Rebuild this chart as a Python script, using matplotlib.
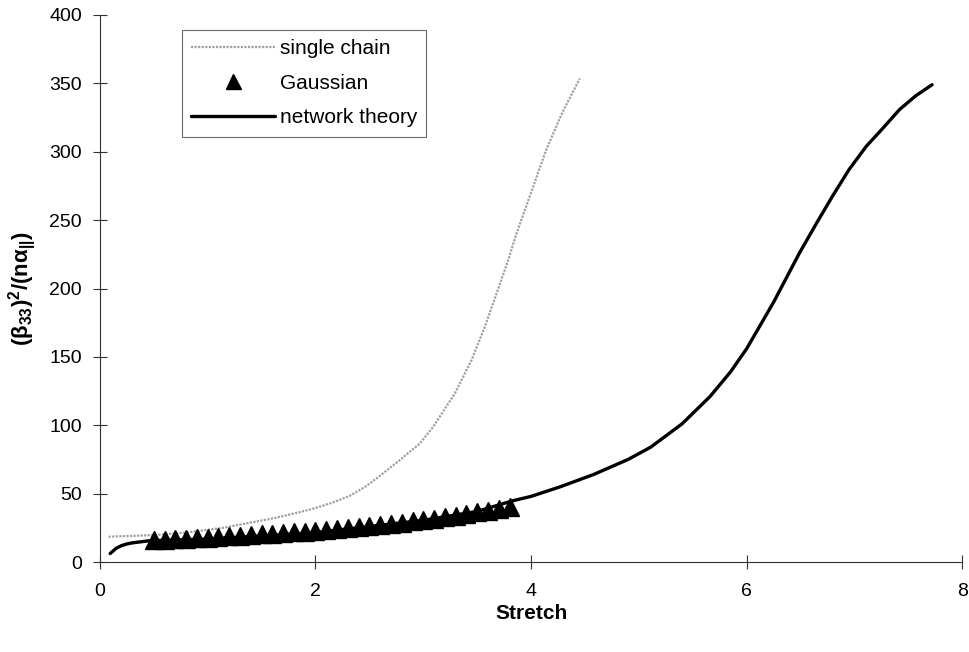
import matplotlib
matplotlib.use("Agg")
import matplotlib.pyplot as plt

plt.rcParams['font.family'] = ['Liberation Sans', 'DejaVu Sans']
plt.rcParams['mathtext.default'] = 'regular'

# single chain (dotted grey)
chain_x = [0.08, 0.5, 0.8, 1.14, 1.61, 1.855, 2.0, 2.16, 2.32, 2.47, 2.597, 2.783,
           2.968, 3.092, 3.293, 3.448, 3.571, 3.68, 3.788, 3.865, 4.004, 4.143,
           4.292, 4.453]
chain_y = [18.5, 19.7, 21.5, 25, 32, 36.5, 39.5, 43.5, 48.5, 55.5, 63, 74.6,
           86.7, 98.9, 123.3, 147.7, 172, 196.4, 220.8, 240.3, 271, 302,
           329, 353.6]

# Gaussian (triangles)
gauss_x = [0.5, 0.6, 0.7, 0.8, 0.9, 1.0, 1.1, 1.2, 1.3, 1.4, 1.5, 1.6, 1.7,
           1.8, 1.9, 2.0, 2.1, 2.2, 2.3, 2.4, 2.5, 2.6, 2.7, 2.8, 2.9, 3.0,
           3.1, 3.2, 3.3, 3.4, 3.5, 3.6, 3.7, 3.8]
gauss_y = [16.0, 16.3, 16.7, 17.0, 17.4, 17.8, 18.2, 18.7, 19.2, 19.7, 20.2,
           20.7, 21.2, 21.7, 22.3, 22.9, 23.5, 24.1, 24.8, 25.5, 26.3, 27.1,
           27.9, 28.8, 29.8, 30.8, 31.8, 32.9, 34.0, 35.1, 36.3, 37.6, 39.0, 40.5]

# network theory (solid black)
net_x = [0.095, 0.15, 0.2, 0.25, 0.3, 0.45, 1.0, 2.0, 3.0, 3.5, 3.83, 4.0, 4.27,
         4.58, 4.9, 5.11, 5.4, 5.66, 5.85, 6.0, 6.25, 6.49, 6.65, 6.8, 6.95,
         7.11, 7.25, 7.42, 7.57, 7.72]
net_y = [6.2, 10, 12, 13.2, 14, 15.5, 16.8, 21.5, 30.5, 37, 44.8, 48, 55,
         64, 75, 84, 101, 121, 139, 156, 190, 226, 248, 268, 287,
         304, 316, 331, 341, 349]

fig = plt.figure(figsize=(9.7, 6.52), dpi=100)
ax = fig.add_axes([0.103, 0.138, 0.889, 0.839])

l1, = ax.plot(chain_x, chain_y, color='#a0a0a0', linestyle=(0, (1, 0.6)),
              linewidth=1.6, label='single chain', zorder=2)
l3, = ax.plot(net_x, net_y, color='black', linewidth=2.4,
              label='network theory', zorder=3, solid_capstyle='round')
l2, = ax.plot(gauss_x, gauss_y, linestyle='none', marker='^', markersize=13.5,
              color='black', label='Gaussian', zorder=4)

ax.set_xlim(0, 8)
ax.set_ylim(0, 400)
ax.set_xticks([0, 2, 4, 6, 8])
ax.set_yticks(range(0, 401, 50))
ax.spines['top'].set_visible(False)
ax.spines['right'].set_visible(False)
for s in ['left', 'bottom']:
    ax.spines[s].set_linewidth(0.8)
    ax.spines[s].set_color('#333333')
ax.tick_params(direction='inout', length=10, width=0.8, labelsize=14,
               colors='#333333', labelcolor='black')
ax.tick_params(axis='x', pad=10)
ax.tick_params(axis='y', pad=8)

ax.set_xlabel('Stretch', fontsize=15, fontweight='bold', labelpad=3)
ax.set_ylabel(r'$(\beta_{33})^2/(n\alpha_{||})$', fontsize=16,
              fontweight='bold')
ax.yaxis.set_label_coords(-0.072, 0.5)

leg = ax.legend(handles=[l1, l2, l3], loc='upper left',
                bbox_to_anchor=(0.095, 0.973), fontsize=15, frameon=True,
                fancybox=False, edgecolor='#444444', borderpad=0.45,
                handlelength=4.0, handletextpad=0.25, labelspacing=0.75,
                borderaxespad=0, markerscale=0.8)
leg.get_frame().set_linewidth(0.8)

fig.savefig('out.png', dpi=100)
